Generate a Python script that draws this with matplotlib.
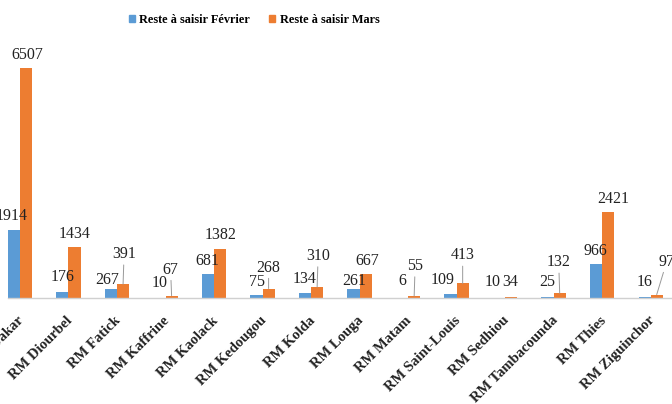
import matplotlib
matplotlib.use('Agg')
import matplotlib.pyplot as plt
import matplotlib.transforms as mtransforms
import numpy as np
from matplotlib.patches import Patch

regions = ["RM Dakar", "RM Diourbel", "RM Fatick", "RM Kaffrine", "RM Kaolack",
           "RM Kedougou", "RM Kolda", "RM Louga", "RM Matam", "RM Saint-Louis",
           "RM Sedhiou", "RM Tambacounda", "RM Thies", "RM Ziguinchor"]
fevrier = [1914, 176, 267, 10, 681, 75, 134, 261, 6, 109, 10, 25, 966, 16]
mars = [6507, 1434, 391, 67, 1382, 268, 310, 667, 55, 413, 34, 132, 2421, 97]
series_names = ["Reste à saisir Février", "Reste à saisir Mars"]

# layout: label offsets in pixels (dx, dy) from bar top-centre
off_f = [(-2, 14), (0, 15), (-4, 9), (0, 15), (-1, 13), (1, 13), (0, 14), (1, 8),
         (0, 17), (-8, 14), (-6, 16), (0, 15), (-1, 13), (0, 15)]
off_m = [(1, 13), (0, 13), (1, 30), (-1, 26), (0, 14), (0, 21), (1, 31), (2, 13),
         (1, 30), (0, 28), (-1, 15), (-1, 31), (5, 13), (10, 33)]
lead_m = [False, False, True, True, False, True, True, False, True, True, False, True, False, True]

BLUE = "#5B9BD5"
ORANGE = "#ED7D31"
plt.rcParams['font.family'] = ['Liberation Serif', 'DejaVu Serif']

W, H = 672, 404
fig = plt.figure(figsize=(W / 100, H / 100), dpi=100)
ax_left = 8 / W
ax_bottom = (H - 298) / H
ax_top_px = 29.4
ax = fig.add_axes([ax_left, ax_bottom, 1 - ax_left, (298 - ax_top_px) / H])

x = np.arange(len(regions))
bw = 0.25
b1 = ax.bar(x - bw / 2, fevrier, bw, color=BLUE, zorder=2)
b2 = ax.bar(x + bw / 2, mars, bw, color=ORANGE, zorder=2)

ax.set_xlim(-0.247, 13.44)
ax.set_ylim(0, 7600)

for i in range(len(regions)):
    dx, dy = off_f[i]
    ax.annotate(str(fevrier[i]), xy=(x[i] - bw / 2, fevrier[i]), xytext=(dx, dy),
                textcoords='offset pixels', ha='center', va='center',
                fontsize=11.5, color='#222222', annotation_clip=False)
    dx, dy = off_m[i]
    kw = {}
    if lead_m[i]:
        kw['arrowprops'] = dict(arrowstyle='-', color='#999999', lw=0.7,
                                shrinkA=0, shrinkB=0)
    ax.annotate(str(mars[i]), xy=(x[i] + bw / 2, mars[i]), xytext=(dx, dy),
                textcoords='offset pixels', ha='center', va='center',
                fontsize=11.5, color='#222222', annotation_clip=False, **kw)

for s in ['top', 'right', 'left']:
    ax.spines[s].set_visible(False)
ax.spines['bottom'].set_color('#d0d0d0')
ax.spines['bottom'].set_linewidth(1.0)
ax.set_yticks([])
ax.set_xticks(x)
ax.set_xticklabels(regions, rotation=45, ha='right', rotation_mode='anchor',
                   fontsize=10.5, fontweight='bold', color='#222222')
ax.tick_params(axis='x', length=0, pad=8)
shift = mtransforms.ScaledTranslation(-2 / 72, -3.5 / 72, fig.dpi_scale_trans)
for lab in ax.get_xticklabels():
    lab.set_transform(lab.get_transform() + shift)

handles = [Patch(color=BLUE), Patch(color=ORANGE)]
fig.legend(handles, series_names, loc='center', bbox_to_anchor=(254 / W, 1 - 20 / H),
           ncol=2, frameon=False, prop={'weight': 'bold', 'size': 8.8},
           handlelength=0.5, handleheight=0.5, handletextpad=0.35, columnspacing=1.6)

fig.savefig('out.png', dpi=100)
